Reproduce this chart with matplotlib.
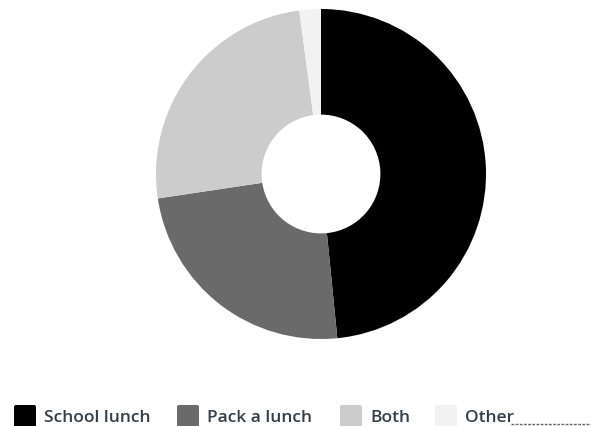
import matplotlib
matplotlib.use('Agg')
import matplotlib.pyplot as plt
from matplotlib.patches import FancyBboxPatch

# responses per lunch option
labels = ['School lunch', 'Pack a lunch', 'Both', 'Other']
counts = [46, 23, 24, 2]
colors = ['#000000', '#6a6a6a', '#cccccc', '#f2f2f2']

W, H = 591, 427
fig = plt.figure(figsize=(W / 100, H / 100), dpi=100)

# donut
cx, cy, r = 321, 175, 165
ax = fig.add_axes([(cx - r) / W, (H - cy - r) / H, 2 * r / W, 2 * r / H])
ax.pie(counts, colors=colors, startangle=90, counterclock=False, radius=1,
       wedgeprops=dict(width=0.64, edgecolor='none'))
ax.set_xlim(-1, 1)
ax.set_ylim(-1, 1)
ax.set_aspect('equal')
ax.axis('off')

# legend drawn in pixel coordinates
lg = fig.add_axes([0, 0, 1, 1], zorder=-1)
lg.set_xlim(0, W)
lg.set_ylim(H, 0)
lg.axis('off')

box_x = [14, 177, 340, 435]
for x, lab, col in zip(box_x, labels, colors):
    lg.add_patch(FancyBboxPatch((x + 1, 407), 20, 22, boxstyle='round,pad=1,rounding_size=2',
                                facecolor=col, edgecolor='none'))
    lg.text(x + 30, 418, lab, fontsize=12.5, fontfamily='Open Sans', fontweight='semibold',
            color='#333e48', va='center', ha='left')

lg.plot([511, 591], [425, 425], color='#666666', lw=1, linestyle=(0, (2, 1)))

fig.savefig('out.png', dpi=100)
